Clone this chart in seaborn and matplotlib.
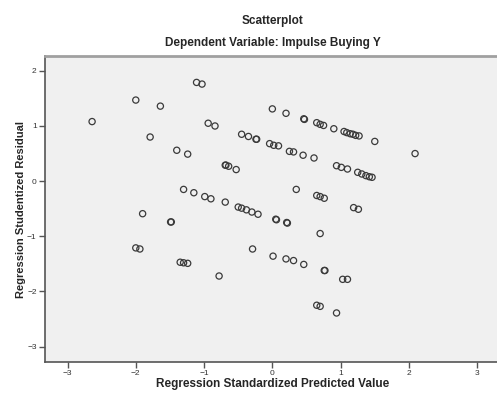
import matplotlib
matplotlib.use("Agg")
import matplotlib.pyplot as plt
import seaborn as sns
import pandas as pd

# standardized predicted values (x) and studentized residuals (y)
predicted = [
    -2.64, -2.00, -1.64, -1.11, -1.03, -1.79, -1.40, -1.24, -1.30, -1.15,
    0.00, 0.20, 0.46, 0.47, 0.65, 0.70, 0.75, 0.90,
    1.05, 1.09, 1.14, 1.18, 1.22, 1.27, 1.50, 2.09,
    -0.94, -0.84, -0.45, -0.35, -0.24, -0.23, -0.04, 0.02, 0.09,
    0.25, 0.31, 0.45, 0.61, 0.94, 1.01, 1.10,
    1.25, 1.31, 1.37, 1.42, 1.46,
    -0.69, -0.68, -0.64, -0.53, -0.99, -0.90, -0.69,
    -0.50, -0.45, -0.38, -0.30, -0.21, 0.35, 0.65, 0.70, 0.76,
    0.05, 0.06, 0.21, 0.22, 0.70, -0.29, 0.01, 0.20, 0.31, 0.46,
    0.76, 0.77, 1.03, 1.10, -0.78, 0.65, 0.70, 0.94,
    -1.90, -1.49, -1.48, -2.00, -1.94, -1.35, -1.30, -1.24, 1.19, 1.26,
]
residual = [
    1.08, 1.47, 1.36, 1.79, 1.76, 0.80, 0.56, 0.49, -0.15, -0.21,
    1.31, 1.23, 1.13, 1.12, 1.06, 1.03, 1.01, 0.95,
    0.90, 0.88, 0.86, 0.85, 0.83, 0.82, 0.72, 0.50,
    1.05, 1.00, 0.85, 0.81, 0.76, 0.76, 0.68, 0.65, 0.64,
    0.54, 0.53, 0.47, 0.42, 0.28, 0.25, 0.22,
    0.16, 0.13, 0.10, 0.08, 0.07,
    0.29, 0.29, 0.27, 0.21, -0.28, -0.32, -0.38,
    -0.47, -0.49, -0.52, -0.56, -0.60, -0.15, -0.26, -0.28, -0.31,
    -0.69, -0.70, -0.75, -0.76, -0.95, -1.23, -1.36, -1.41, -1.44, -1.51,
    -1.62, -1.62, -1.78, -1.78, -1.72, -2.25, -2.27, -2.39,
    -0.59, -0.74, -0.74, -1.21, -1.23, -1.47, -1.48, -1.49, -0.48, -0.51,
]
x_ticks = [-3, -2, -1, 0, 1, 2, 3]
y_ticks = [-3, -2, -1, 0, 1, 2]

df = pd.DataFrame({"pred": predicted, "resid": residual})

sns.set_style("white")
plt.rcParams["font.family"] = ["Liberation Sans", "DejaVu Sans"]

fig = plt.figure(figsize=(4.97, 3.97), dpi=100)
ax = fig.add_axes([0.0905, 0.0894, 0.915, 0.7683])
ax.set_facecolor("#f0f0f0")

sns.scatterplot(data=df, x="pred", y="resid", ax=ax, marker="o", s=20,
                facecolor="none", edgecolor="#3a3a3a", linewidth=0.9, legend=False)

ax.set_xlim(-3.33, 3.33)
ax.set_ylim(-3.27, 2.26)
ax.set_xticks(x_ticks)
ax.set_yticks(y_ticks)
ax.tick_params(axis="both", direction="out", length=4, width=1, color="#555555",
               labelsize=6, labelcolor="#333333", pad=2, bottom=True, left=True)

for side in ["left", "bottom"]:
    ax.spines[side].set_color("#555555")
    ax.spines[side].set_linewidth(1.2)
ax.spines["top"].set_color("#a0a0a0")
ax.spines["top"].set_linewidth(2)
ax.spines["right"].set_color("#a0a0a0")

ax.set_xlabel("Regression Standardized Predicted Value", fontsize=8.5,
              fontweight="bold", labelpad=1)
ax.set_ylabel("Regression Studentized Residual", fontsize=8,
              fontweight="bold", labelpad=1)

fig.text(0.549, 0.948, "Scatterplot", ha="center", va="center",
         fontsize=8.5, fontweight="bold")
fig.text(0.549, 0.892, "Dependent Variable: Impulse Buying Y", ha="center",
         va="center", fontsize=8.5, fontweight="bold")

fig.savefig("out.png", dpi=100, facecolor="white")
